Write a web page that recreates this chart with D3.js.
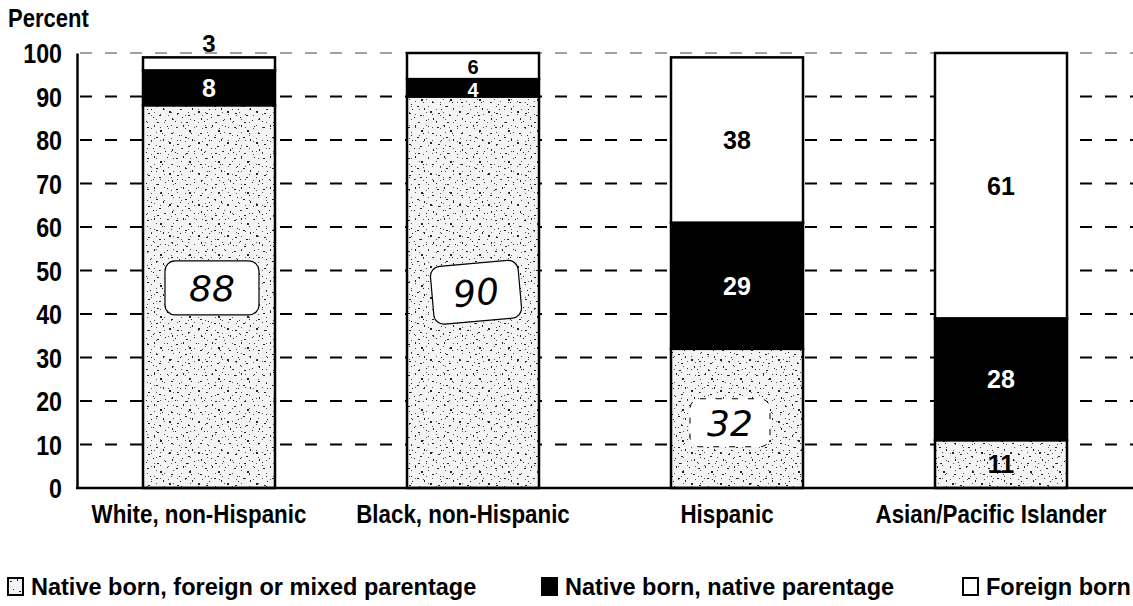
<!DOCTYPE html>
<html>
<head>
<meta charset="utf-8">
<script src="https://cdn.jsdelivr.net/npm/d3@7"></script>
<style>
  html, body { margin: 0; padding: 0; background: #fff; }
  svg { display: block; }
  text { font-family: "Liberation Sans", Arial, sans-serif; font-weight: bold; fill: #000; }
</style>
</head>
<body>
<svg id="chart" width="1133" height="606"></svg>
<script>
// ---- data ----
const categories = ["White, non-Hispanic", "Black, non-Hispanic", "Hispanic", "Asian/Pacific Islander"];
const seriesNames = ["Native born, foreign or mixed parentage", "Native born, native parentage", "Foreign born"];
const mixedParentage = [88, 90, 32, 11];
const nativeParentage = [8, 4, 29, 28];
const foreignBorn = [3, 6, 38, 61];
const yTicks = [0, 10, 20, 30, 40, 50, 60, 70, 80, 90, 100];

(function () {
const FONT = '"Liberation Sans", Arial, sans-serif';
const svg = d3.select("#chart");
const mLeft = 77, mRight = 1133, mTop = 53, mBottom = 488;

// horizontally condense text (to mimic a narrow typeface)
function condense(sel, f) {
  sel.each(function () {
    const L = this.getComputedTextLength();
    d3.select(this).attr("textLength", L * f).attr("lengthAdjust", "spacingAndGlyphs");
  });
}

// speckle pattern (texture only)
const defs = svg.append("defs");
const pat = defs.append("pattern").attr("id", "speckle").attr("patternUnits", "userSpaceOnUse")
  .attr("width", 29).attr("height", 31);
pat.append("rect").attr("width", 29).attr("height", 31).attr("fill", "#f4f4f4");
const dots = [[2,3,2,1],[9,1,1,2],[15,6,2,2],[22,2,1,1],[26,9,2,1],[5,11,1,1],[11,13,2,1],[18,15,1,2],
  [24,18,2,2],[3,20,2,1],[8,24,1,1],[14,22,2,1],[20,27,1,1],[27,25,1,2],[1,28,1,1],[12,29,2,1],[17,9,1,1],[6,16,1,1]];
dots.forEach(d => pat.append("rect").attr("x", d[0]).attr("y", d[1]).attr("width", d[2]).attr("height", d[3]).attr("fill", "#222"));
const pat2 = defs.append("pattern").attr("id", "speckle2").attr("patternUnits", "userSpaceOnUse")
  .attr("width", 17).attr("height", 13);
const dots2 = [[3,2],[11,5],[7,10],[15,11],[1,8]];
dots2.forEach(d => pat2.append("rect").attr("x", d[0]).attr("y", d[1]).attr("width", 1).attr("height", 1).attr("fill", "#555"));

const x = d3.scaleBand().domain(categories).range([mLeft, mRight]).paddingInner(0.5).paddingOuter(0.25);
const y = d3.scaleLinear().domain([0, 100]).range([mBottom, mTop]);

// "Percent"
svg.append("text").attr("x", 8).attr("y", 27).attr("font-size", 25).text("Percent").call(condense, 0.88);

// gridlines
svg.append("g").selectAll("line").data(yTicks.filter(t => t > 0)).join("line")
  .attr("x1", mLeft).attr("x2", mRight).attr("y1", d => y(d)).attr("y2", d => y(d))
  .attr("stroke", d => d === 100 ? "#444" : "#000").attr("stroke-width", d => d === 100 ? 1.2 : 1.8)
  .attr("stroke-dasharray", "12,13").attr("stroke-dashoffset", -3);

// y axis
const yAxis = d3.axisLeft(y).tickValues(yTicks).tickSize(0).tickPadding(15);
const gy = svg.append("g").attr("transform", `translate(${mLeft},0)`).call(yAxis);
gy.select(".domain").attr("stroke", "#000").attr("stroke-width", 2.5);
gy.selectAll("text").attr("font-size", 27).attr("dy", "0.36em")
  .style("font-family", FONT).style("font-weight", "bold").call(condense, 0.86);

// stacked data
const table = categories.map((c, i) => ({ cat: c, mixed: mixedParentage[i], native: nativeParentage[i], foreign: foreignBorn[i] }));
const keys = ["mixed", "native", "foreign"];
const stack = d3.stack().keys(keys)(table);
const fills = { mixed: "url(#speckle)", native: "#000", foreign: "#fff" };

const layers = svg.append("g").selectAll("g").data(stack).join("g");
layers.selectAll("rect.seg").data(d => d.map(v => Object.assign({ key: d.key }, v))).join("rect")
  .attr("class", "seg")
  .attr("x", d => x(d.data.cat)).attr("width", x.bandwidth())
  .attr("y", d => y(d[1])).attr("height", d => y(d[0]) - y(d[1]))
  .attr("fill", d => fills[d.key]);
layers.filter(d => d.key === "mixed").selectAll("rect.seg2").data(d => d).join("rect")
  .attr("class", "seg2")
  .attr("x", d => x(d.data.cat)).attr("width", x.bandwidth())
  .attr("y", d => y(d[1])).attr("height", d => y(d[0]) - y(d[1]))
  .attr("fill", "url(#speckle2)");
// segment outlines
layers.selectAll("rect.out").data(d => d.map(v => Object.assign({ key: d.key }, v))).join("rect")
  .attr("class", "out")
  .attr("x", d => x(d.data.cat)).attr("width", x.bandwidth())
  .attr("y", d => y(d[1])).attr("height", d => y(d[0]) - y(d[1]))
  .attr("fill", "none").attr("stroke", "#000").attr("stroke-width", 2.5);

// baseline
svg.append("line").attr("x1", mLeft - 1).attr("x2", mRight).attr("y1", y(0)).attr("y2", y(0))
  .attr("stroke", "#000").attr("stroke-width", 2.5);

// value labels for native and foreign segments
stack.forEach(layer => {
  if (layer.key === "mixed") return;
  layer.forEach(d => {
    const v = d[1] - d[0];
    const cx = x(d.data.cat) + x.bandwidth() / 2;
    let cy = y((d[0] + d[1]) / 2);
    const color = layer.key === "native" ? "#fff" : "#000";
    let fs = 25;
    if (layer.key === "foreign" && v < 5) { cy = y(d[1]) - 14; fs = 24; }
    else if (v < 7) { fs = 20; cy += (layer.key === "native" ? 2 : 1); }
    svg.append("text").attr("x", cx).attr("y", cy).attr("dy", "0.36em")
      .attr("text-anchor", "middle").attr("font-size", fs).style("fill", color).text(v);
  });
});

// handwritten labels for the mixed-parentage segment
const hand = [
  { i: 0, v: 46, w: 94, h: 54, rot: 0 },
  { i: 1, v: 45, w: 88, h: 58, rot: -5 },
  { i: 2, v: 15, w: 80, h: 48, rot: 0 }
];
hand.forEach(hd => {
  const cat = categories[hd.i];
  const cx = x(cat) + x.bandwidth() / 2 + (hd.i === 2 ? -7 : 3);
  const cy = y(hd.v);
  const g = svg.append("g").attr("transform", `translate(${cx},${cy}) rotate(${hd.rot})`);
  g.append("rect").attr("x", -hd.w / 2).attr("y", -hd.h / 2).attr("width", hd.w).attr("height", hd.h)
    .attr("rx", 10).attr("fill", "#fff")
    .attr("stroke", "#000").attr("stroke-width", hd.i === 2 ? 1 : 1.2)
    .attr("stroke-dasharray", hd.i === 2 ? "6,10" : null);
  g.append("text").attr("text-anchor", "middle").attr("dy", "0.36em")
    .attr("font-size", 36).style("font-weight", "normal").style("font-family", '"DejaVu Sans", sans-serif')
    .style("font-style", "italic").text(mixedParentage[hd.i]);
});
// Asian small segment label
svg.append("text").attr("x", x(categories[3]) + x.bandwidth() / 2).attr("y", y(mixedParentage[3] / 2))
  .attr("dy", "0.36em").attr("text-anchor", "middle").attr("font-size", 25).text(mixedParentage[3]);

// category labels (condensed through a horizontal scale)
svg.append("g").selectAll("text").data(categories).join("text")
  .attr("transform", d => `translate(${x(d) + x.bandwidth() / 2 - 10},523) scale(0.86,1)`)
  .attr("text-anchor", "middle").attr("font-size", 26).text(d => d);

// legend
const legendX = [8, 542, 963];
const legendFill = ["url(#speckle)", "#000", "#fff"];
const lg = svg.append("g").selectAll("g").data(seriesNames).join("g")
  .attr("transform", (d, i) => `translate(${legendX[i]},578)`);
lg.append("rect").attr("width", 15).attr("height", 17).attr("fill", (d, i) => legendFill[i])
  .attr("stroke", "#000").attr("stroke-width", 2);
lg.append("text").attr("x", 23).attr("y", 17).attr("font-size", 23.5).text(d => d);
})();
</script>
</body>
</html>
